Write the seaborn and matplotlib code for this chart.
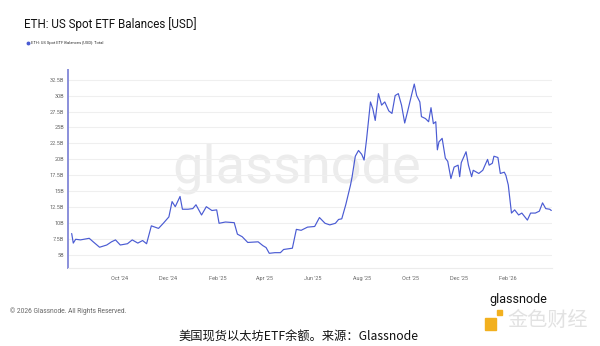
import matplotlib
matplotlib.use("Agg")
import matplotlib.pyplot as plt
from matplotlib.lines import Line2D
from matplotlib.patches import Rectangle
import pandas as pd
import seaborn as sns

# ---------------- data ----------------
dates = ["2024-08-02","2024-08-04","2024-08-07","2024-08-13","2024-08-24","2024-08-29","2024-09-06","2024-09-15","2024-09-21","2024-09-26",
         "2024-10-02","2024-10-11","2024-10-17","2024-10-24","2024-10-30","2024-11-04","2024-11-10","2024-11-19","2024-11-25","2024-12-02",
         "2024-12-06","2024-12-10","2024-12-16","2024-12-19","2024-12-26","2025-01-01","2025-01-05","2025-01-12","2025-01-18","2025-01-25",
         "2025-01-31","2025-02-03","2025-02-11","2025-02-22","2025-02-26","2025-03-04","2025-03-11","2025-03-24","2025-03-30","2025-04-03",
         "2025-04-07","2025-04-14","2025-04-21","2025-04-25","2025-05-06","2025-05-11","2025-05-17","2025-05-25","2025-06-03","2025-06-09",
         "2025-06-16","2025-06-22","2025-06-29","2025-07-03","2025-07-07","2025-07-12","2025-07-18","2025-07-20","2025-07-24","2025-07-28",
         "2025-08-01","2025-08-04","2025-08-07","2025-08-12","2025-08-15","2025-08-18","2025-08-22","2025-08-26","2025-08-30","2025-09-04",
         "2025-09-08","2025-09-12","2025-09-16","2025-09-20","2025-09-24","2025-09-28","2025-10-03","2025-10-06","2025-10-09","2025-10-13",
         "2025-10-15","2025-10-20","2025-10-24","2025-10-27","2025-10-30","2025-11-02","2025-11-04","2025-11-06","2025-11-10","2025-11-14",
         "2025-11-17","2025-11-21","2025-11-25","2025-11-30","2025-12-02","2025-12-04","2025-12-10","2025-12-13","2025-12-17","2025-12-19",
         "2025-12-26","2025-12-31","2026-01-06","2026-01-08","2026-01-12","2026-01-14","2026-01-19","2026-01-22","2026-01-27","2026-01-29",
         "2026-02-01","2026-02-05","2026-02-09","2026-02-14","2026-02-18","2026-02-25","2026-03-01","2026-03-07","2026-03-12","2026-03-16",
         "2026-03-20","2026-03-25","2026-03-27"]
balances_busd = [8.4, 6.9, 7.5, 7.4, 7.65, 7.1, 6.25, 6.6, 7.1, 7.4,
                 6.6, 6.8, 7.4, 6.9, 7.3, 6.8, 9.6, 9.2, 10.0, 11.0,
                 13.4, 12.6, 14.2, 12.2, 12.2, 12.3, 12.9, 11.3, 12.6, 12.0,
                 12.1, 10.0, 10.2, 10.1, 8.3, 7.9, 7.0, 7.1, 6.5, 6.2,
                 5.3, 5.4, 5.4, 5.9, 6.1, 9.05, 8.9, 9.4, 9.5, 10.9,
                 10.0, 9.75, 10.0, 10.6, 10.7, 12.9, 16.0, 17.3, 20.5, 21.4,
                 20.8, 19.9, 23.0, 29.0, 27.9, 26.1, 30.3, 28.5, 29.0, 27.6,
                 27.2, 30.0, 30.3, 28.5, 25.7, 27.7, 30.3, 31.8, 30.0, 29.0,
                 26.7, 26.4, 25.9, 28.1, 25.6, 25.9, 21.5, 22.75, 23.3, 20.2,
                 19.7, 17.0, 18.8, 19.1, 17.3, 19.5, 21.2, 19.1, 17.3, 18.3,
                 17.8, 18.3, 20.0, 19.1, 19.4, 20.5, 20.3, 17.8, 18.0, 17.5,
                 16.0, 11.6, 12.1, 11.3, 11.6, 10.5, 11.6, 11.6, 11.9, 13.2,
                 12.3, 12.2, 12.0]

x_tick_dates = ["2024-10-01","2024-12-01","2025-02-01","2025-04-01","2025-06-01",
                "2025-08-01","2025-10-01","2025-12-01","2026-02-01"]
x_tick_labels = ["Oct '24","Dec '24","Feb '25","Apr '25","Jun '25",
                 "Aug '25","Oct '25","Dec '25","Feb '26"]
y_ticks = [5, 7.5, 10, 12.5, 15, 17.5, 20, 22.5, 25, 27.5, 30, 32.5]
y_tick_labels = ["5B","7.5B","10B","12.5B","15B","17.5B","20B","22.5B","25B","27.5B","30B","32.5B"]

title = "ETH: US Spot ETF Balances [USD]"
legend_label = "ETH: US Spot ETF Balances [USD]: Total"
caption = "美国现货以太坊ETF余额。来源：Glassnode"
copyright_txt = "© 2026 Glassnode. All Rights Reserved."

df = pd.DataFrame({"date": pd.to_datetime(dates), "value": balances_busd})

# ---------------- style ----------------
sns.set_theme(style="white")
plt.rcParams["font.family"] = ["Roboto", "DejaVu Sans"]

LINE = "#4a5bd3"
W, H = 600, 346
fig = plt.figure(figsize=(6, 3.46), dpi=100)
fig.patch.set_facecolor("white")

def fx(px):
    return px / W

def fy(py):
    return 1 - py / H

ax_l, ax_r, ax_t, ax_b = 67.7, 551.7, 70, 268
ax = fig.add_axes([fx(ax_l), fy(ax_b), fx(ax_r - ax_l), (ax_b - ax_t) / H])
ax.set_facecolor("none")

sns.lineplot(data=df, x="date", y="value", ax=ax, color=LINE, linewidth=0.85, zorder=3)

ax.set_xlim(pd.Timestamp("2024-07-28"), pd.Timestamp("2026-03-27 12:00"))
ax.set_ylim(3.0, 34.0)

ax.set_yticks(y_ticks)
ax.set_yticklabels(y_tick_labels)
ax.set_xticks(pd.to_datetime(x_tick_dates))
ax.set_xticklabels(x_tick_labels)
ax.set_xlabel("")
ax.set_ylabel("")

ax.grid(axis="y", color="#efefef", linewidth=0.8, zorder=1)
ax.grid(axis="x", visible=False)
ax.tick_params(axis="y", length=0, pad=2.5, labelsize=4, labelcolor="#666666")
ax.tick_params(axis="x", length=2, width=0.6, color="#dddddd", pad=4, labelsize=4, labelcolor="#666666")

for s in ["top", "right"]:
    ax.spines[s].set_visible(False)
ax.spines["left"].set_color("#8a8fda")
ax.spines["left"].set_linewidth(1.4)
ax.spines["bottom"].set_color("#ececec")
ax.spines["bottom"].set_linewidth(0.8)

# watermark
ax.text(0.474, 0.505, "glassnode", transform=ax.transAxes, ha="center", va="center",
        fontsize=39, color="#ececec", zorder=0, family=["Roboto", "DejaVu Sans"])

# title and legend
fig.text(fx(24), fy(24.5), title, ha="left", va="center", fontsize=8.4, color="#111111")
fig.add_artist(Line2D([fx(28)], [fy(42.7)], marker="o", markersize=1.8, color=LINE,
                      transform=fig.transFigure, linestyle="none"))
fig.text(fx(31), fy(42.7), legend_label, ha="left", va="center", fontsize=3, color="#333333")

# footer
fig.text(fx(10), fy(311), copyright_txt, ha="left", va="center", fontsize=4.8, color="#666666")
fig.text(fx(298), fy(337), caption, ha="center", va="center", fontsize=8.8, color="#111111",
         family=["Noto Sans CJK SC", "DejaVu Sans"])

# logo
fig.text(fx(489), fy(300), "glassnode", ha="left", va="center", fontsize=9, color="#111111")
fig.add_artist(Rectangle((fx(485), fy(330)), fx(11), 12 / H, color="#f2b01e", transform=fig.transFigure))
fig.add_artist(Rectangle((fx(497), fy(315)), fx(5), 5 / H, color="#f2b01e", transform=fig.transFigure))
fig.text(fx(548), fy(320), "金色财经", ha="center", va="center", fontsize=14.5, color="#e2e2e2",
         family=["Noto Sans CJK SC", "DejaVu Sans"])

fig.savefig("out.png", dpi=100, facecolor="white")
